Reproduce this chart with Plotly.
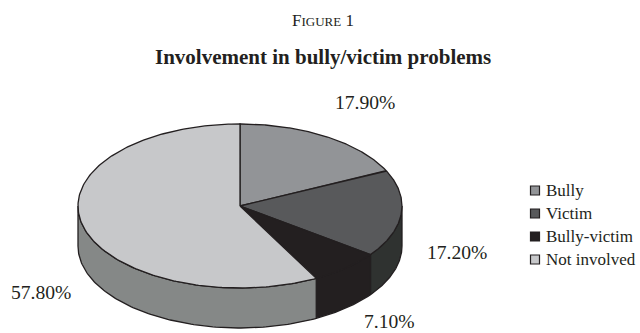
import numpy as np
import plotly.graph_objects as go

categories = ["Bully", "Victim", "Bully-victim", "Not involved"]
values = [17.9, 17.2, 7.1, 57.8]
value_labels = ["17.90%", "17.20%", "7.10%", "57.80%"]
top_colors = ["#929497", "#58595b", "#231f20", "#c7c8ca"]
side_colors = ["#6d6e70", "#2f3230", "#231f20", "#858887"]

W, H = 640, 333
CX, CY, RX, RY, DEPTH = 240, 206, 162, 82, 40
INK = "#231f20"


def ellipse(theta, dy=0):
    return CX + RX * np.sin(theta), CY - RY * np.cos(theta) + dy


edges = np.concatenate([[0], np.cumsum(values)]) / sum(values) * 2 * np.pi
fig = go.Figure()

# side walls (visible lower half only)
for i, c in enumerate(side_colors):
    a, b = max(edges[i], np.pi / 2), min(edges[i + 1], 3 * np.pi / 2)
    if b <= a:
        continue
    t = np.linspace(a, b, 120)
    x1, y1 = ellipse(t)
    x2, y2 = ellipse(t[::-1], DEPTH)
    fig.add_trace(go.Scatter(x=np.r_[x1, x2, x1[0]], y=np.r_[y1, y2, y1[0]], mode="lines",
                             fill="toself", fillcolor=c, line=dict(color=INK, width=1.3),
                             hoverinfo="skip", showlegend=False))

# top face
for i, c in enumerate(top_colors):
    t = np.linspace(edges[i], edges[i + 1], 200)
    x, y = ellipse(t)
    fig.add_trace(go.Scatter(x=np.r_[CX, x, CX], y=np.r_[CY, y, CY], mode="lines",
                             fill="toself", fillcolor=c, line=dict(color=INK, width=1.3),
                             name=categories[i], text=value_labels[i], hoverinfo="name+text",
                             showlegend=False))

ann = []
# key
for i, cat in enumerate(categories):
    ky = 190.5 + i * 23
    fig.add_trace(go.Scatter(x=[535], y=[ky], mode="markers", name=cat,
                             marker=dict(symbol="square", size=9, color=top_colors[i],
                                         line=dict(color=INK, width=1.2)),
                             hoverinfo="skip", showlegend=False))
    ann.append(dict(x=544, y=ky, xanchor="left", text=cat, showarrow=False,
                    font=dict(family="Liberation Serif", size=17, color=INK)))

label_pos = [(365, 102), (457, 252), (389, 321), (41, 292)]
ann += [dict(x=x, y=y, text=s, showarrow=False,
             font=dict(family="Liberation Serif", size=19.6, color=INK))
        for (x, y), s in zip(label_pos, value_labels)]
ann.append(dict(x=323, y=20, showarrow=False, text="F<span style='font-size:13px'>IGURE</span> 1",
                font=dict(family="Liberation Serif", size=17, color=INK)))
ann.append(dict(x=323, y=57, showarrow=False, text="<b>Involvement in bully/victim problems</b>",
                font=dict(family="Liberation Serif", size=21, color=INK)))

fig.update_layout(width=W, height=H, margin=dict(l=0, r=0, t=0, b=0),
                  paper_bgcolor="white", plot_bgcolor="white", annotations=ann,
                  xaxis=dict(range=[0, W], visible=False, fixedrange=True),
                  yaxis=dict(range=[H, 0], visible=False, fixedrange=True))
fig.write_html("out.html", config={"displayModeBar": False},
               post_script="document.body.style.margin='0';document.documentElement.style.overflow='hidden';")
